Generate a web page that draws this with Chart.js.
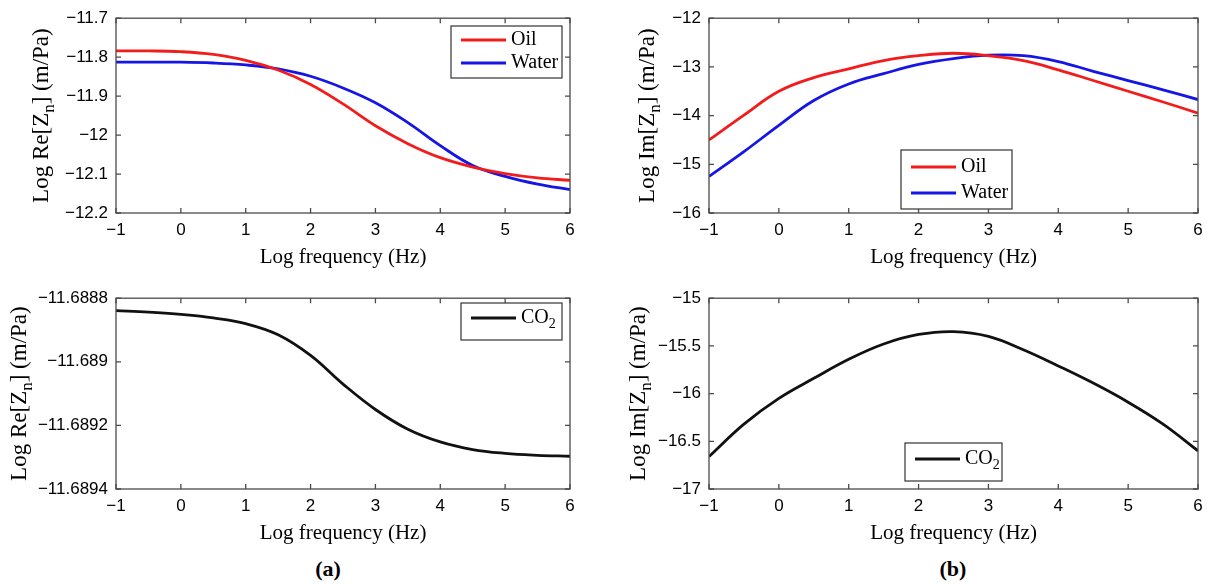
<!DOCTYPE html>
<html>
<head>
<meta charset="utf-8">
<title>impedancia normalizada</title>
<script src="https://cdn.jsdelivr.net/npm/chart.js@4.4.1/dist/chart.umd.min.js"></script>
<style>
  html, body { margin: 0; padding: 0; background: #fff; }
  #fig { position: relative; width: 1211px; height: 586px; overflow: hidden; background: #fff; }
  #fig canvas { position: absolute; }
  .rotulo { position: absolute; width: 100px; text-align: center; line-height: 26px;
            font: bold 22px "Liberation Serif", "Times New Roman", serif; color: #000; }
</style>
</head>
<body>
<div id="fig">
  <canvas id="c_re" width="605" height="280" style="left:0;top:0"></canvas>
  <canvas id="c_im" width="606" height="280" style="left:605px;top:0"></canvas>
  <canvas id="c_co2re" width="605" height="276" style="left:0;top:280px"></canvas>
  <canvas id="c_co2im" width="606" height="276" style="left:605px;top:280px"></canvas>
  <div class="rotulo" style="left:278px;top:556px">(a)</div>
  <div class="rotulo" style="left:903px;top:556px">(b)</div>
</div>
<script>
"use strict";

// log10 de la frecuencia (Hz)
var freq = [-1, -0.5, 0, 0.5, 1, 1.5, 2, 2.5, 3, 3.5, 4, 4.5, 5, 5.5, 6];

// parte real, log (m/Pa)
var reOil   = [-11.784, -11.784, -11.786, -11.793, -11.808, -11.833, -11.870, -11.920, -11.976, -12.022, -12.058, -12.082, -12.099, -12.110, -12.116];
var reWater = [-11.813, -11.813, -11.813, -11.815, -11.820, -11.830, -11.849, -11.879, -11.917, -11.968, -12.027, -12.078, -12.106, -12.126, -12.140];

// parte imaginaria, log (m/Pa)
var imOil   = [-14.50, -13.99, -13.50, -13.22, -13.04, -12.87, -12.77, -12.72, -12.77, -12.87, -13.06, -13.28, -13.50, -13.72, -13.95];
var imWater = [-15.25, -14.74, -14.20, -13.69, -13.35, -13.14, -12.95, -12.83, -12.76, -12.77, -12.89, -13.09, -13.28, -13.47, -13.67];

// co2
var co2Re = [-11.688839, -11.688844, -11.688851, -11.688862, -11.688880, -11.688915, -11.688980, -11.689070, -11.689150, -11.689212, -11.689252, -11.689276, -11.689288, -11.689294, -11.689297];
var co2Im = [-16.66, -16.32, -16.05, -15.84, -15.64, -15.48, -15.38, -15.35, -15.40, -15.54, -15.71, -15.89, -16.09, -16.32, -16.60];

// ticks
var xTicks = [-1, 0, 1, 2, 3, 4, 5, 6];
var xTickLabels = ["\u22121", "0", "1", "2", "3", "4", "5", "6"];
var reTicks = [-11.7, -11.8, -11.9, -12, -12.1, -12.2];
var reTickLabels = ["\u221211.7", "\u221211.8", "\u221211.9", "\u221212", "\u221212.1", "\u221212.2"];
var imTicks = [-12, -13, -14, -15, -16];
var imTickLabels = ["\u221212", "\u221213", "\u221214", "\u221215", "\u221216"];
var co2ReTicks = [-11.6888, -11.689, -11.6892, -11.6894];
var co2ReTickLabels = ["\u221211.6888", "\u221211.689", "\u221211.6892", "\u221211.6894"];
var co2ImTicks = [-15, -15.5, -16, -16.5, -17];
var co2ImTickLabels = ["\u221215", "\u221215.5", "\u221216", "\u221216.5", "\u221217"];

var ROJO = "#f21c1c";
var AZUL = "#1515e6";
var NEGRO = "#111111";
var SERIF = '"Liberation Serif", "Times New Roman", serif';
var SANS = '"Liberation Sans", Arial, Helvetica, sans-serif';

Chart.defaults.font.family = SANS;
Chart.defaults.font.size = 17;
Chart.defaults.color = "#000";

// trozos de texto con subindices estilo tex: "Z_n", "CO_2"
function partesTex(txt) {
  var out = [], re = /_(\{[^}]*\}|.)/g, last = 0, m;
  while ((m = re.exec(txt))) {
    if (m.index > last) { out.push({ t: txt.slice(last, m.index), sub: false }); }
    var s = m[1];
    if (s.charAt(0) === "{") { s = s.slice(1, -1); }
    out.push({ t: s, sub: true });
    last = re.lastIndex;
  }
  if (last < txt.length) { out.push({ t: txt.slice(last), sub: false }); }
  return out;
}

function dibujaTex(ctx, txt, x, y, size, align) {
  var partes = partesTex(txt);
  var subSize = Math.round(size * 0.72);
  var ancho = 0;
  partes.forEach(function (p) {
    ctx.font = (p.sub ? subSize : size) + "px " + SERIF;
    p.w = ctx.measureText(p.t).width;
    ancho += p.w;
  });
  var cx = align === "center" ? x - ancho / 2 : x;
  ctx.textAlign = "left";
  ctx.textBaseline = "middle";
  partes.forEach(function (p) {
    ctx.font = (p.sub ? subSize : size) + "px " + SERIF;
    ctx.fillText(p.t, cx, p.sub ? y + size * 0.32 : y);
    cx += p.w;
  });
}

// marco con ticks hacia dentro, titulos de ejes y leyenda con recuadro
var marcoPlugin = {
  id: "marco",
  afterDraw: function (chart, args, opts) {
    var ctx = chart.ctx, a = chart.chartArea;
    var xs = chart.scales.x, ys = chart.scales.y;
    ctx.save();
    ctx.strokeStyle = "#4a4a4a";
    ctx.lineWidth = 1.3;
    ctx.strokeRect(a.left, a.top, a.right - a.left, a.bottom - a.top);
    ctx.beginPath();
    xs.ticks.forEach(function (t) {
      var px = xs.getPixelForValue(t.value);
      ctx.moveTo(px, a.bottom); ctx.lineTo(px, a.bottom - 5);
      ctx.moveTo(px, a.top); ctx.lineTo(px, a.top + 5);
    });
    ys.ticks.forEach(function (t) {
      var py = ys.getPixelForValue(t.value);
      ctx.moveTo(a.left, py); ctx.lineTo(a.left + 5, py);
      ctx.moveTo(a.right, py); ctx.lineTo(a.right - 5, py);
    });
    ctx.stroke();

    ctx.fillStyle = "#000";
    dibujaTex(ctx, opts.xTitle, (a.left + a.right) / 2, a.bottom + 44, 21, "center");
    ctx.save();
    ctx.translate(opts.yTitleX, (a.top + a.bottom) / 2);
    ctx.rotate(-Math.PI / 2);
    dibujaTex(ctx, opts.yTitle, 0, 0, 23, "center");
    ctx.restore();

    var lg = opts.leyenda;
    if (lg) {
      ctx.fillStyle = "#fff";
      ctx.fillRect(lg.left, lg.top, lg.width, lg.height);
      ctx.strokeStyle = "#333";
      ctx.lineWidth = 1.2;
      ctx.strokeRect(lg.left, lg.top, lg.width, lg.height);
      chart.data.datasets.forEach(function (ds, i) {
        var fy = lg.top + lg.fila0 + i * lg.alto;
        ctx.strokeStyle = ds.borderColor;
        ctx.lineWidth = ds.borderWidth;
        ctx.beginPath();
        ctx.moveTo(lg.left + 10, fy);
        ctx.lineTo(lg.left + 55, fy);
        ctx.stroke();
        ctx.fillStyle = "#000";
        dibujaTex(ctx, ds.label, lg.left + 60, fy, 20, "left");
      });
    }
    ctx.restore();
  }
};

function serie(label, valores, color) {
  return {
    label: label,
    data: valores.map(function (v, i) { return { x: freq[i], y: v }; }),
    borderColor: color,
    borderWidth: 2.8,
    pointRadius: 0,
    fill: false,
    tension: 0.4
  };
}

function panel(id, series, cfg) {
  var canvas = document.getElementById(id);
  var ancho = canvas.width, alto = canvas.height;
  return new Chart(canvas.getContext("2d"), {
    type: "line",
    data: { datasets: series },
    plugins: [marcoPlugin],
    options: {
      responsive: false,
      animation: false,
      devicePixelRatio: 1,
      layout: { padding: { left: 0, top: cfg.top, right: ancho - cfg.right, bottom: 0 } },
      plugins: {
        legend: { display: false },
        tooltip: { enabled: false },
        marco: { xTitle: "Log frequency (Hz)", yTitle: cfg.yTitle, yTitleX: cfg.yTitleX, leyenda: cfg.leyenda }
      },
      scales: {
        x: {
          type: "linear",
          min: xTicks[0],
          max: xTicks[xTicks.length - 1],
          grid: { display: false, drawTicks: false },
          border: { display: false },
          afterBuildTicks: function (s) { s.ticks = xTicks.map(function (v) { return { value: v }; }); },
          afterFit: function (s) { s.height = alto - cfg.bottom; },
          ticks: {
            padding: 7,
            maxRotation: 0,
            callback: function (v, i) { return xTickLabels[i]; }
          }
        },
        y: {
          type: "linear",
          min: cfg.yTicks[cfg.yTicks.length - 1],
          max: cfg.yTicks[0],
          grid: { display: false, drawTicks: false },
          border: { display: false },
          afterBuildTicks: function (s) { s.ticks = cfg.yTicks.map(function (v) { return { value: v }; }); },
          afterFit: function (s) { s.width = cfg.left; },
          ticks: {
            padding: 8,
            callback: function (v, i) { return cfg.yLabels[i]; }
          }
        }
      }
    }
  });
}

panel("c_re", [serie("Oil", reOil, ROJO), serie("Water", reWater, AZUL)], {
  left: 116, right: 570, top: 17, bottom: 213,
  yTicks: reTicks, yLabels: reTickLabels,
  yTitle: "Log Re[Z_n] (m/Pa)", yTitleX: 42,
  leyenda: { left: 451, top: 26, width: 111, height: 52, fila0: 14, alto: 23 }
});

panel("c_im", [serie("Oil", imOil, ROJO), serie("Water", imWater, AZUL)], {
  left: 104, right: 593, top: 18, bottom: 213,
  yTicks: imTicks, yLabels: imTickLabels,
  yTitle: "Log Im[Z_n] (m/Pa)", yTitleX: 43,
  leyenda: { left: 296, top: 150, width: 111, height: 59, fila0: 17, alto: 26 }
});

panel("c_co2re", [serie("CO_2", co2Re, NEGRO)], {
  left: 116, right: 570, top: 14, bottom: 209,
  yTicks: co2ReTicks, yLabels: co2ReTickLabels,
  yTitle: "Log Re[Z_n] (m/Pa)", yTitleX: 20,
  leyenda: { left: 461, top: 23, width: 101, height: 37, fila0: 15, alto: 24 }
});

panel("c_co2im", [serie("CO_2", co2Im, NEGRO)], {
  left: 104, right: 593, top: 15, bottom: 209,
  yTicks: co2ImTicks, yLabels: co2ImTickLabels,
  yTitle: "Log Im[Z_n] (m/Pa)", yTitleX: 34,
  leyenda: { left: 300, top: 163, width: 97, height: 38, fila0: 16, alto: 24 }
});
</script>
</body>
</html>
